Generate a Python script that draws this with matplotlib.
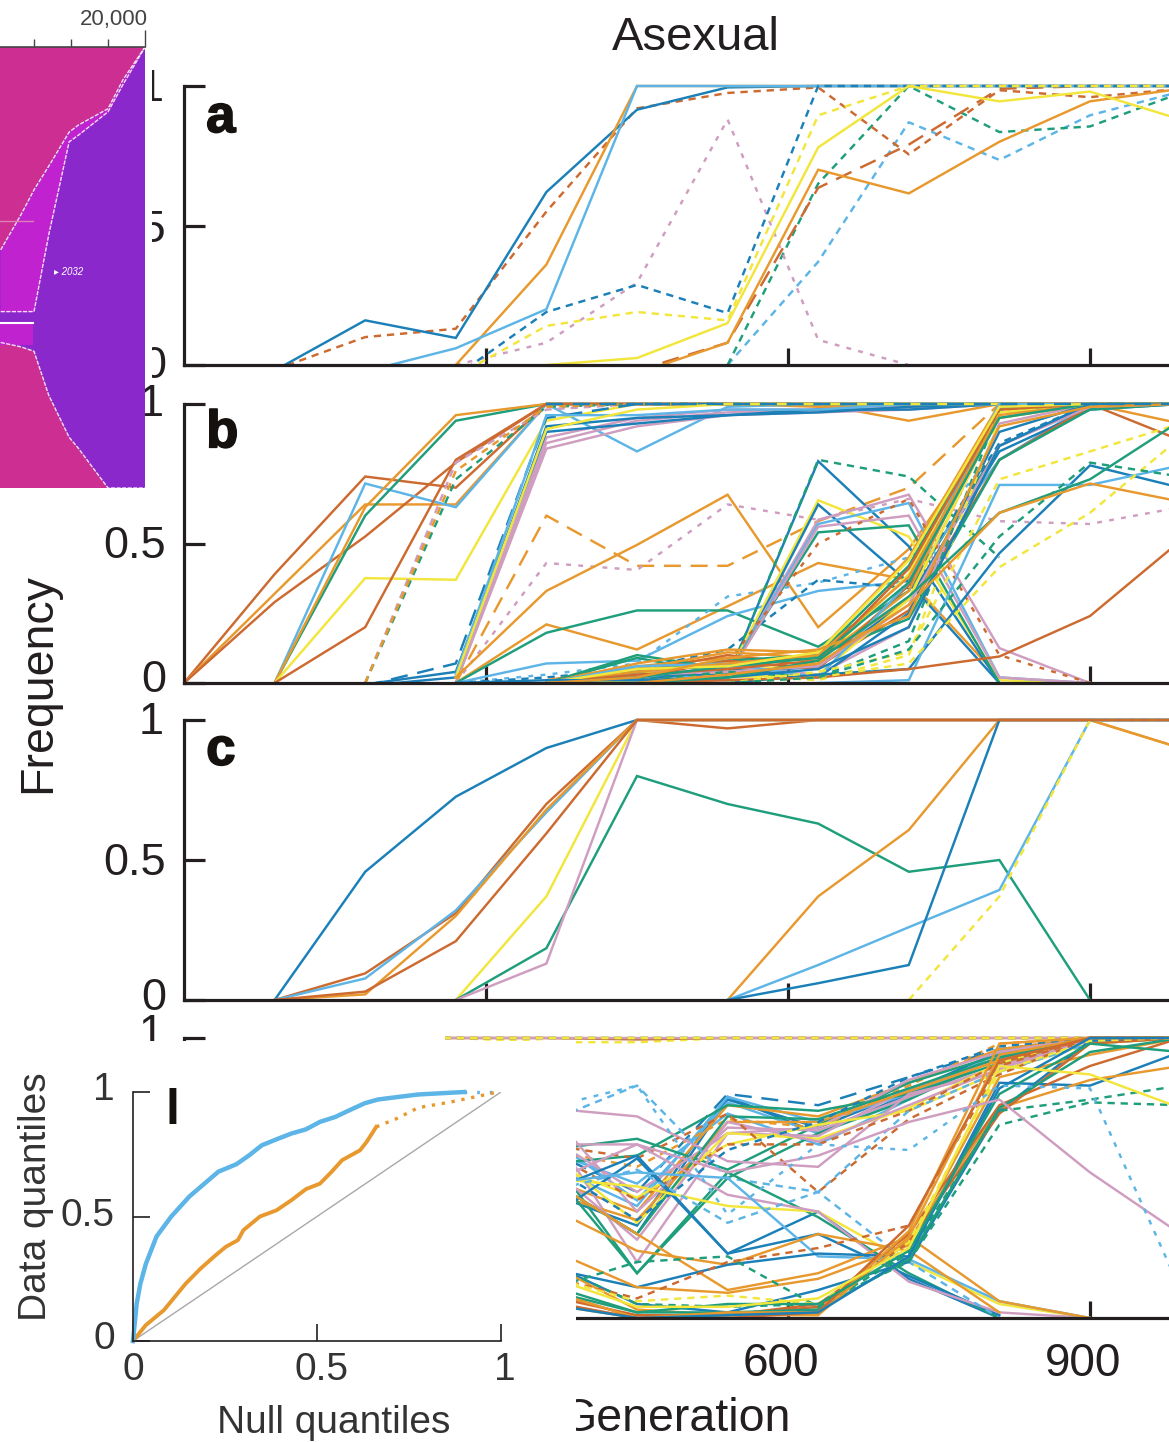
"""
Frequency trajectories in asexual populations (panels a-d), with the lineage
plot corner and the quantile plot on top. Values read off the figure.
"""
import matplotlib
matplotlib.use("Agg")
import matplotlib.pyplot as plt
import matplotlib.patheffects as pe
from matplotlib.patches import Rectangle, Polygon
from matplotlib.transforms import ScaledTranslation

plt.rcParams['font.family'] = ['Liberation Sans', 'DejaVu Sans']

N = None
generations = [0, 90, 180, 270, 360, 450, 540, 630, 720, 810, 900, 990]

panel_a = [
    ("sky dash", [N, N, N, N, N, N, .0, .37, .87, .735, .895, .98]),
    ("green dash", [N, N, N, N, N, N, 0, .65, 1, .835, .855, .975]),
    ("pink dot", [N, N, N, 0, .08, .295, .88, .09, 0, N, N, N]),
    ("vermillion dash", [N, -.017, .10, .13, .55, .92, .975, .995, .755, .985, .96, .99]),
    ("vermillion long", [N, N, N, N, N, -.02, .08, .635, .79, .99, 1, 1]),
    ("blue", [N, -.02, .16, .097, .62, .915, .995, 1, 1, 1, 1, 1]),
    ("orange", [N, N, N, 0, .36, 1, 1, 1, 1, 1, 1, 1]),
    ("sky", [N, N, -.023, .06, .20, 1, 1, 1, 1, 1, 1, 1]),
    ("blue dash", [N, N, N, -.04, .19, .287, .186, 1, 1, 1, 1, 1]),
    ("yellow dash", [N, N, N, -.04, .14, .19, .16, .895, 1, 1, 1, 1]),
    ("orange", [N, N, N, N, N, -.03, .08, .70, .615, .80, .945, .99]),
    ("yellow", [N, N, N, N, 0, .025, .15, .78, 1, .945, .98, .88]),
]

panel_b = [
    ("vermillion", [0, .39, .74, .70, 1, 1, 1, 1, 1, 1, 1, 1]),
    ("orange", [0, .32, .64, .64, 1, 1, 1, .99, .99, 1, 1, .93]),
    ("vermillion", [0, .29, .525, .79, 1, 1, 1, 1, 1, 1, 1, .87]),
    ("sky", [N, 0, .715, .63, 1, .83, .99, 1, 1, 1, 1, 1]),
    ("green", [N, 0, .60, .94, 1, 1, 1, 1, 1, 1, 1, 1]),
    ("orange", [N, 0, .63, .96, 1, 1, 1, 1, .94, 1, 1, 1]),
    ("yellow", [N, 0, .376, .37, .94, 1, 1, 1, 1, 1, 1, 1]),
    ("vermillion", [N, 0, .20, .80, 1, 1, 1, 1, 1, 1, 1, 1]),
    ("pink dash", [N, N, 0, .79, .98, 1, 1, 1, 1, 1, 1, 1]),
    ("green dash", [N, N, 0, .73, .99, 1, 1, 1, 1, 1, 1, 1]),
    ("orange dash", [N, N, 0, .76, .99, 1, 1, 1, 1, 1, 1, 1]),
    ("pink", [N, N, N, 0, .84, .92, .96, .97, .98, 1, 1, 1]),
    ("pink", [N, N, N, 0, .86, .94, .97, .98, .99, 1, 1, 1]),
    ("pink", [N, N, N, 0, .88, .95, .98, .98, .99, 1, 1, 1]),
    ("blue", [N, N, -.01, .02, .92, .95, .96, .97, .99, 1, 1, 1]),
    ("blue long", [N, N, -.01, .07, .95, 1, 1, 1, 1, 1, 1, 1]),
    ("blue", [N, N, -.005, .04, .90, .93, .96, .98, .98, 1, 1, 1]),
    ("sky", [N, N, N, .03, .96, .96, .98, .98, 1, 1, 1, 1]),
    ("yellow", [N, N, N, .02, .91, .98, 1, 1, 1, 1, 1, 1]),
    ("orange long", [N, N, N, 0, .60, .42, .42, .58, .70, 1, 1, 1]),
    ("pink dot", [N, N, N, 0, .43, .405, .64, .585, .66, .58, .57, .63]),
    ("orange", [N, N, N, .02, .33, .495, .675, .20, .48, .95, 1, 1]),
    ("orange", [N, N, N, 0, .21, .12, .275, .43, .37, .02, N, N]),
    ("green", [N, N, N, 0, .18, .26, .26, .13, .33, .85, 1, 1]),
    ("sky", [N, N, N, 0, .07, .08, .24, .33, .365, .80, 1, 1]),
    ("sky dot", [N, N, N, 0, .03, .07, .31, .36, .45, .85, 1, 1]),
    ("blue dash", [N, N, N, 0, .02, .05, .12, .37, .34, .86, 1, 1]),
    # peak at 630, gone by 810
    ("blue", [N, N, N, N, 0, .03, .02, .795, .49, 0, N, N]),
    ("green dash", [N, N, N, N, 0, .02, .02, .80, .74, .45, N, N]),
    ("yellow", [N, N, N, N, 0, .04, .03, .655, .525, .01, 0, N]),
    ("blue", [N, N, N, N, 0, .02, .01, .64, .36, 0, N, N]),
    ("pink", [N, N, N, N, 0, .03, .03, .585, .675, .125, .0, N]),
    ("sky", [N, N, N, N, 0, .02, .03, .57, .645, .02, 0, N]),
    ("green", [N, N, N, N, 0, .09, .03, .54, .565, .0, N, N]),
    ("pink", [N, N, N, N, 0, .05, .02, .56, .60, .02, 0, N]),
    ("vermillion dot", [N, N, N, N, 0, .04, .07, .50, .66, .10, 0, N]),
    # sweep between 630 and 810
    ("blue", [N, N, N, N, 0, .03, .03, .06, .30, .83, .98, 1]),
    ("orange", [N, N, N, N, .01, .06, .09, .08, .33, .99, 1, 1]),
    ("vermillion", [N, N, N, N, 0, .04, .10, .06, .26, .80, .99, 1]),
    ("green", [N, N, N, N, 0, .10, .05, .10, .42, .99, 1, 1]),
    ("yellow", [N, N, N, N, 0, .03, .04, .07, .39, 1, 1, 1]),
    ("pink", [N, N, N, N, 0, .02, .06, .03, .20, .93, 1, 1]),
    ("orange", [N, N, N, N, 0, .05, .11, .09, .30, .97, 1, 1]),
    ("green", [N, N, N, N, 0, .04, .08, .10, .23, .80, .98, 1]),
    ("blue", [N, N, N, N, 0, .01, .05, .02, .25, .90, 1, 1]),
    ("vermillion", [N, N, N, N, 0, .02, .08, .05, .35, 1, 1, 1]),
    ("yellow", [N, N, N, N, 0, .01, .02, .03, .30, .97, 1, 1]),
    ("pink", [N, N, N, N, 0, .03, .04, .06, .28, .85, .99, 1]),
    ("orange", [N, N, N, N, 0, .07, .12, .11, .45, 1, 1, 1]),
    ("sky", [N, N, N, N, 0, .06, .07, .02, .36, 1, 1, 1]),
    ("green dash", [N, N, N, N, N, .01, .04, .02, .15, .98, 1, 1]),
    ("yellow dash", [N, N, N, N, N, 0, .03, .01, .10, .95, 1, 1]),
    ("orange", [N, N, N, N, 0, .04, .07, .10, .38, .96, 1, 1]),
    ("vermillion", [N, N, N, N, 0, .03, .05, .08, .41, .98, 1, 1]),
    ("green", [N, N, N, N, 0, .02, .06, .09, .36, .95, 1, 1]),
    ("yellow", [N, N, N, N, 0, .05, .06, .11, .44, .99, 1, 1]),
    ("blue", [N, N, N, 0, .01, .01, .02, .05, .20, .85, 1, 1]),
    ("orange", [N, N, N, N, 0, .02, .09, .12, .24, .92, .99, 1]),
    # lower right, still going at the end
    ("blue", [N, N, N, N, N, N, 0, .03, .05, .465, .78, .70]),
    ("sky", [N, N, N, N, N, N, N, 0, .01, .71, .71, .78]),
    ("vermillion", [N, N, N, N, N, 0, .01, .02, .05, .095, .24, .51]),
    ("yellow dash", [N, N, N, N, N, N, 0, .02, .07, .415, .61, .88]),
    ("yellow dash", [N, N, N, N, N, N, 0, .04, .11, .73, .83, .93]),
    ("green", [N, N, N, N, N, 0, .02, .08, .31, .61, .73, .94]),
    ("green dash", [N, N, N, N, N, N, 0, .02, .12, .525, .79, .74]),
    ("orange", [N, N, N, N, N, 0, .03, .07, .28, .61, .715, .65]),
    ("blue long", [N, N, N, N, 1, 1, 1, 1, 1, 1, 1, 1]),
]

panel_c = [
    ("blue", [N, 0, .458, .726, .90, 1, 1, 1, 1, 1, 1, 1]),
    ("vermillion", [N, 0, .095, .31, .70, 1, .97, 1, 1, 1, 1, 1]),
    ("sky", [N, 0, .077, .32, .67, 1, 1, 1, 1, 1, 1, 1]),
    ("orange", [N, 0, .02, .30, .68, 1, 1, 1, 1, 1, 1, .90]),
    ("yellow", [N, N, N, 0, .37, 1, 1, 1, 1, 1, 1, 1]),
    ("green", [N, N, N, 0, .185, .80, .70, .63, .458, .50, 0, N]),
    ("pink", [N, N, N, 0, .13, 1, 1, 1, 1, 1, 1, 1]),
    ("orange", [N, N, N, N, N, N, 0, .37, .607, 1, 1, .90]),
    ("sky", [N, N, N, N, N, N, 0, .125, .26, .393, 1, 1]),
    ("blue", [N, N, N, N, N, N, 0, .06, .125, 1, 1, 1]),
    ("yellow dash", [N, N, N, N, N, N, N, N, 0, .37, 1, 1]),
    ("vermillion", [N, 0, .03, .21, .595, 1, 1, 1, 1, 1, 1, 1]),
]

panel_d = [
    # fixed from the start
    ("yellow dash", [N, N, 1, 1, .985, .985, 1, 1, 1, 1, 1, 1]),
    ("vermillion", [N, N, 1, 1, 1, .995, 1, 1, 1, 1, 1, 1]),
    ("pink", [N, N, 1, 1, 1, 1, 1, 1, 1, 1, 1, 1]),
    ("green dash", [N, N, 1, 1, 1, 1, 1, 1, 1, 1, 1, 1]),
    ("orange dash", [N, N, 1, 1, 1, 1, 1, 1, 1, 1, 1, 1]),
    ("yellow dash", [N, N, 1, 1, 1, 1, 1, 1, 1, 1, 1, 1]),
    # climbing through 540-720
    ("blue", [N, N, N, N, .45, .33, .79, .66, .80, .93, 1, 1]),
    ("blue", [N, N, N, N, .50, .30, .78, .68, .81, .95, 1, 1]),
    ("blue long", [N, N, N, N, .60, .45, .80, .76, .86, .96, 1, 1]),
    ("sky", [N, N, N, N, .55, .40, .79, .70, .80, .93, .99, 1]),
    ("sky", [N, N, N, N, .65, .42, .77, .66, .79, .93, 1, 1]),
    ("sky", [N, N, N, N, .60, .48, .73, .62, .78, .95, 1, 1]),
    ("orange", [N, N, N, N, .50, .38, .76, .72, .84, .96, 1, 1]),
    ("orange dash", [N, N, N, N, .60, .54, .71, .68, .83, .98, 1, 1]),
    ("green", [N, N, N, N, .60, .16, .50, .66, .78, .93, 1, 1]),
    ("green", [N, N, N, N, .55, .58, .76, .74, .80, .91, .99, 1]),
    ("green", [N, N, N, N, .60, .64, .53, .69, .84, .94, 1, 1]),
    ("pink", [N, N, N, N, .70, .20, .66, .65, .82, .92, 1, 1]),
    ("pink", [N, N, N, N, .75, .38, .68, .67, .79, .90, .99, 1]),
    ("pink", [N, N, N, N, .65, .45, .66, .68, .85, .95, 1, 1]),
    ("pink", [N, N, N, N, .75, .72, .56, .54, .80, .88, 1, 1]),
    ("yellow", [N, N, N, N, .55, .43, .62, .69, .74, .88, .98, 1]),
    ("yellow", [N, N, N, N, .60, .34, .66, .64, .75, .91, 1, 1]),
    ("orange", [N, N, N, N, .45, .35, .70, .70, .81, .92, 1, 1]),
    ("pink", [N, N, N, N, .55, .28, .70, .63, .76, .89, 1, 1]),
    ("green", [N, N, N, N, .50, .30, .72, .71, .82, .93, 1, 1]),
    ("vermillion dash", [N, N, N, N, .62, .57, .73, .45, .71, .87, 1, 1]),
    ("vermillion dash", [N, N, N, N, .60, .42, .62, .62, .74, .91, 1, 1]),
    ("sky dash", [N, N, N, N, .70, .83, .50, .45, .74, .88, .98, 1]),
    ("blue dash", [N, N, N, N, .55, .35, .60, .70, .86, .97, 1, 1]),
    # falling out through 630-810
    ("blue", [N, N, N, N, .45, .58, .23, .38, .14, 0, N, N]),
    ("green", [N, N, N, N, .55, .16, .52, .36, .16, 0, N, N]),
    ("blue", [N, N, N, N, .35, .57, .23, .30, .15, .01, N, N]),
    ("yellow", [N, N, N, N, .50, .47, .40, .38, .20, .05, 0, N]),
    ("pink", [N, N, N, N, .48, .62, .44, .38, .13, .02, 0, N]),
    ("sky", [N, N, N, N, .48, .52, .50, .22, .21, .06, 0, N]),
    ("orange", [N, N, N, N, .40, .24, .19, .30, .24, .02, N, N]),
    ("sky dash", [N, N, N, N, .45, .53, .34, .45, .20, 0, N, N]),
    ("orange", [N, N, N, N, .50, .30, .10, .16, .29, .06, 0, N]),
    # sweep from nothing in 720-900
    ("blue", [N, N, N, N, .18, .11, .19, .23, .22, .84, .83, .95]),
    ("blue", [N, N, N, N, .20, .05, .02, .10, .20, .74, .99, 1]),
    ("orange", [N, N, N, N, .25, .11, .09, .14, .26, .86, .94, 1]),
    ("orange", [N, N, N, N, .20, .03, .01, .03, .28, .75, .85, .90]),
    ("vermillion", [N, N, N, N, .10, 0, .01, .04, .30, .76, .90, 1]),
    ("vermillion", [N, N, N, N, .08, .01, .01, .05, .27, .73, .98, 1]),
    ("green", [N, N, N, N, .10, .02, .02, .03, .21, .75, .95, 1]),
    ("green dash", [N, N, N, N, .20, .05, .04, .05, .20, .69, .77, .76]),
    ("green dash", [N, N, N, N, .10, .20, .22, .04, .23, .74, .78, .83]),
    ("vermillion dash", [N, N, N, N, .15, .07, .20, .25, .33, .90, 1, 1]),
    ("yellow dash", [N, N, N, N, .15, .06, .08, .05, .27, .88, .99, 1]),
    ("orange", [N, N, N, N, .10, 0, .02, .02, .31, .98, 1, 1]),
    ("orange", [N, N, N, N, .05, 0, .01, .01, .29, .94, 1, 1]),
    ("vermillion", [N, N, N, N, .06, 0, .0, .02, .33, .92, 1, 1]),
    ("blue", [N, N, N, N, .05, 0, .01, .02, .22, .82, 1, 1]),
    ("green", [N, N, N, N, .12, .02, .05, .05, .24, .80, .98, .95]),
    ("yellow", [N, N, N, N, .15, .04, .04, .07, .25, .90, .87, .75]),
    ("pink", [N, N, N, N, .62, .62, .52, .58, .70, .78, .52, .30]),
    ("sky dot", [N, N, N, N, .75, .83, .37, .62, .60, .83, .82, .10]),
]

l_null = [0, .01, .02, .035, .064, .104, .153, .232, .281, .315, .35, .39, .43, .47, .508, .55, .587, .63, .666, .72, .775, .90]
l_high = [0, .15, .23, .31, .42, .50, .58, .68, .71, .745, .786, .81, .833, .85, .88, .90, .926, .955, .97, .98, .99, 1]
l_high_tail_null = [.90, .935, .96, .985]
l_high_tail = [1, 1, 1, 1]
l_low_null = [0, .035, .084, .143, .183, .225, .252, .285, .30, .345, .39, .43, .47, .508, .54, .568, .617, .635, .661]
l_low = [0, .064, .124, .23, .29, .345, .378, .405, .445, .50, .525, .565, .61, .632, .68, .726, .766, .80, .86]
l_low_tail_null = [.661, .716, .775, .864, .992]
l_low_tail = [.86, .893, .937, .96, 1]

# lineage corner: generation, then frequency of each edge
corner_gen = [12200, 13300, 14000, 14800, 15900, 16400, 18000, 18800, 20000]
corner_top = [.54, .62, .676, .73, .807, .823, .86, .925, 1]
corner_mid = [.40, .40, .40, .575, .785, .80, .853, .914, 1]
corner_low = [.33, .32, .31, .21, .115, .09, 0, 0, 0]

COLORS = {"blue": "#1b80b8", "sky": "#5cb5e6", "orange": "#e8992e",
          "vermillion": "#cc6a30", "green": "#1f9e7c", "yellow": "#f2e63c",
          "pink": "#cf9dc0"}
DASHES = {"dash": (3, 2.4), "dot": (2, 3), "long": (7, 4)}

W, H = 1169, 1442
fig = plt.figure(figsize=(W / 100, H / 100), dpi=100)


def px_axes(left, top, right, bottom):
    return fig.add_axes([left / W, 1 - bottom / H, (right - left) / W, (bottom - top) / H])


def px_patch(left, top, right, bottom, zorder=5):
    fig.add_artist(Rectangle((left / W, 1 - bottom / H), (right - left) / W, (bottom - top) / H,
                             transform=fig.transFigure, facecolor="white", edgecolor="none",
                             zorder=zorder))


def shift_label(label, dx, dy):
    label.set_transform(label.get_transform() + ScaledTranslation(dx / 100, dy / 100, fig.dpi_scale_trans))


def draw_panel(ax, lines, letter, letter_y, one_up, half_up, zero_up):
    for name, values in lines:
        parts = name.split()
        xs = [g for g, v in zip(generations, values) if v is not None]
        ys = [v for v in values if v is not None]
        line, = ax.plot(xs, ys, color=COLORS[parts[0]], lw=1.75, solid_joinstyle="miter")
        if len(parts) > 1:
            line.set_dashes(DASHES[parts[1]])
        line.set_clip_path(Rectangle((0, 0), 985, 1.012, transform=ax.transData))
    ax.set_xlim(0, 978.5)
    ax.set_ylim(0, 1)
    for side in ("top", "right"):
        ax.spines[side].set_visible(False)
    for side in ("left", "bottom"):
        ax.spines[side].set_linewidth(2.3)
        ax.spines[side].set_color("#231f20")
        ax.spines[side].set_zorder(4)
    ax.set_xticks([300, 600, 900])
    ax.set_yticks([0, .5, 1])
    ax.set_yticklabels(["0", "0.5", "1"])
    ax.tick_params(axis="x", direction="in", length=12, width=2.3, color="#231f20", pad=17,
                   labelsize=33, labelcolor="#231f20", labelbottom=False)
    ax.tick_params(axis="y", direction="in", length=15, width=2.3, color="#231f20", pad=13,
                   labelsize=32.5, labelcolor="#231f20")
    labels = ax.get_yticklabels()
    shift_label(labels[0], 0, zero_up)
    shift_label(labels[1], 0, half_up)
    shift_label(labels[2], -2, one_up)
    ax.patch.set_alpha(0)
    ax.text(.0225, letter_y, letter, transform=ax.transAxes, fontsize=38, fontweight="bold",
            color="#15110f", ha="left", va="center", zorder=6,
            path_effects=[pe.withStroke(linewidth=1.2, foreground="#15110f")])


tops = [86, 404, 720, 1038]
bottoms = [365, 683, 1000, 1318]
panels = [panel_a, panel_b, panel_c, panel_d]
letters = ["a", "b", "c", ""]
letter_ys = [.885, .895, .89, .9]
ones = [1, 4, 2, 8]
halves = [0, 2, 1, 0]
zeros = [3, 7, 6, 6]
for top, bottom, lines, letter, letter_y, one_up, half_up, zero_up in zip(tops, bottoms, panels, letters, letter_ys, ones, halves, zeros):
    ax = px_axes(184, top, 1169, bottom)
    draw_panel(ax, lines, letter, letter_y, one_up, half_up, zero_up)
    if bottom == 1318:
        ax.tick_params(axis="x", labelbottom=True)
        ax.set_xticklabels(["300", "600", "900"])
        for label in ax.get_xticklabels():
            shift_label(label, -7, 0)

fig.text(696 / W, 1 - 38 / H, "Asexual", fontsize=34, color="#231f20", ha="center", va="center")
fig.text(38 / W, 1 - 683 / H, "Frequency", fontsize=33.5, color="#231f20", rotation=90,
         ha="center", va="center")
fig.text(791 / W, 1 - 1419 / H, "Generation", fontsize=33.5, color="#231f20", ha="right", va="center")

# panel d and the labels are covered by the inset, panel a labels by the corner
px_patch(0, 1041, 576, H)
px_patch(209, 1030, 445, 1044)
px_patch(100, 60, 152, 382)
px_patch(100, 1043, 182, 1060)

# lineage corner
corner = px_axes(0, 47, 145, 488)
corner.set_zorder(6)
corner.set_xlim(12162, 20000)
corner.set_ylim(0, 1)
corner.set_facecolor("#8a28cc")
xmin = corner_gen[0]
corner.add_patch(Polygon(list(zip(corner_gen, corner_top)) + [(20000, 1), (xmin, 1), (12162, 1), (12162, corner_top[0])],
                         fc="#cc2e92", ec="none"))
corner.add_patch(Polygon(list(zip(corner_gen, corner_low)) + [(20000, 0), (12162, 0), (12162, corner_low[0])],
                         fc="#cc2e92", ec="none"))
corner.fill_between([12162] + corner_gen, [corner_mid[0]] + corner_mid, [corner_top[0]] + corner_top,
                    color="#c022d0", lw=0)
corner.axhspan(.325, .372, xmin=0, xmax=.23, color="#c022d0", lw=0)
corner.plot(corner_gen, corner_top, color="white", lw=1, ls=(0, (3, 1)), alpha=.85)
corner.plot(corner_gen, corner_mid, color="white", lw=1, ls=(0, (3, 1)), alpha=.85)
corner.plot(corner_gen, corner_low, color="white", lw=1, ls=(0, (3, 1)), alpha=.85)
corner.axhline(.375, xmin=0, xmax=.23, color="white", lw=1.5)
corner.axhline(.605, xmin=0, xmax=.23, color="#dc7fb5", lw=1)
corner.text(.37, .49, "\u25b8 2032", transform=corner.transAxes, color="white", fontsize=7,
            style="italic", va="center")
for side in ("left", "right", "bottom"):
    corner.spines[side].set_visible(False)
corner.spines["top"].set_color("#444444")
corner.spines["top"].set_linewidth(1.2)
corner.xaxis.tick_top()
corner.set_xticks([14000, 16000, 18000, 20000])
corner.set_xticklabels(["", "", "", "20,000"], fontsize=16, color="#444444")
corner.tick_params(axis="x", direction="out", length=6, width=1, color="#444444", pad=6)
corner.xaxis.get_major_ticks()[-1].tick2line.set_markersize(12)
corner.xaxis.get_ticklabels()[-1].set_ha("right")
shift_label(corner.xaxis.get_ticklabels()[-1], 3, 0)
corner.set_yticks([])

# quantile inset
inset = px_axes(133, 1092, 501, 1341)
inset.set_zorder(6)
inset.plot([0, 1], [0, 1], color="#a9a7a7", lw=1)
inset.plot(l_high_tail_null, l_high_tail, color=COLORS["sky"], lw=2.4, ls=(0, (.8, 3)), clip_on=False)
inset.plot(l_low_tail_null, l_low_tail, color=COLORS["orange"], lw=2.4, ls=(0, (1, 2)), clip_on=False)
inset.plot(l_low_null, l_low, color=COLORS["orange"], lw=2.8, clip_on=False)
inset.plot(l_null, l_high, color=COLORS["sky"], lw=3.2, clip_on=False)
inset.set_xlim(0, 1)
inset.set_ylim(0, 1)
inset.set_xticks([0, .5, 1])
inset.set_xticklabels(["0", "0.5", "1"])
inset.set_yticks([0, .5, 1])
inset.set_yticklabels(["0", "0.5", "1"])
inset.tick_params(axis="both", direction="in", length=12, width=1.2, color="#231f20",
                  labelsize=28, labelcolor="#333333")
inset.tick_params(axis="x", pad=8)
inset.tick_params(axis="y", pad=13)
for label, dx in zip(inset.get_xticklabels(), (0, 4, 4)):
    shift_label(label, dx, 0)
for label, up in zip(inset.get_yticklabels(), (6, 4, 6)):
    shift_label(label, 0, up)
for side in ("top", "right"):
    inset.spines[side].set_visible(False)
for side in ("left", "bottom"):
    inset.spines[side].set_linewidth(1.2)
    inset.spines[side].set_color("#231f20")
inset.text(.108, .925, "l", transform=inset.transAxes, fontsize=36, fontweight="bold", color="#15110f",
           ha="center", va="center")
inset.set_xlabel("Null quantiles", fontsize=28, color="#333333", labelpad=9)
inset.xaxis.set_label_coords(.546, -.256)
inset.set_ylabel("Data quantiles", fontsize=28, color="#333333")
inset.yaxis.set_label_coords(-.215, .58)

fig.savefig("out.png", dpi=100)
